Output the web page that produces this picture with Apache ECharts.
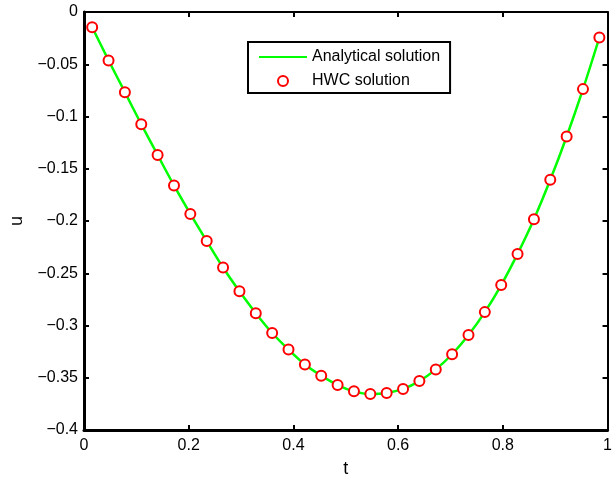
<!DOCTYPE html>
<html>
<head>
<meta charset="utf-8">
<script src="https://cdn.jsdelivr.net/npm/echarts@6/dist/echarts.min.js"></script>
<style>
  html, body { margin: 0; padding: 0; background: #fff; }
  #main { width: 615px; height: 483px; }
</style>
</head>
<body>
<div id="main"></div>
<script>
// sample points t_i = (2i-1)/64
var tValues = [0.0156, 0.0469, 0.0781, 0.1094, 0.1406, 0.1719, 0.2031, 0.2344,
  0.2656, 0.2969, 0.3281, 0.3594, 0.3906, 0.4219, 0.4531, 0.4844,
  0.5156, 0.5469, 0.5781, 0.6094, 0.6406, 0.6719, 0.7031, 0.7344,
  0.7656, 0.7969, 0.8281, 0.8594, 0.8906, 0.9219, 0.9531, 0.9844];
var uAnalytical = [-0.0146, -0.0463, -0.0767, -0.1074, -0.1368, -0.1660, -0.1932, -0.2192,
  -0.2445, -0.2673, -0.2882, -0.3072, -0.3230, -0.3373, -0.3480, -0.3570,
  -0.3630, -0.3655, -0.3646, -0.3607, -0.3532, -0.3420, -0.3275, -0.3091,
  -0.2872, -0.2613, -0.2315, -0.1983, -0.1606, -0.1191, -0.0738, -0.0244];
var uHWC = [-0.0146, -0.0463, -0.0767, -0.1074, -0.1368, -0.1660, -0.1932, -0.2192,
  -0.2445, -0.2673, -0.2882, -0.3072, -0.3230, -0.3373, -0.3480, -0.3570,
  -0.3630, -0.3655, -0.3646, -0.3607, -0.3532, -0.3420, -0.3275, -0.3091,
  -0.2872, -0.2613, -0.2315, -0.1983, -0.1606, -0.1191, -0.0738, -0.0244];
var seriesNames = ['Analytical solution', 'HWC solution'];

function pairs(xs, ys) {
  return xs.map(function (x, i) { return [x, ys[i]]; });
}
function yLabel(v) {
  if (Math.abs(v) < 1e-9) return '0';
  return '\u2212' + parseFloat(Math.abs(v).toFixed(2));
}

var font = 'Liberation Sans, Arial, Helvetica, sans-serif';
var boxAxis = {
  axisLine: { show: true, onZero: false, lineStyle: { color: '#000', width: 2 } },
  axisTick: { show: true, inside: true, length: 5, lineStyle: { color: '#000', width: 2 } },
  axisLabel: { show: false },
  splitLine: { show: false }
};

var myChart = echarts.init(document.getElementById('main'));
myChart.setOption({
  backgroundColor: '#fff',
  animation: false,
  textStyle: { fontFamily: font },
  grid: { left: 81, right: 1, top: 12, bottom: 50 },
  legend: {
    data: [
      { name: seriesNames[0], itemStyle: { color: 'rgba(0,0,0,0)', borderWidth: 0 } },
      { name: seriesNames[1] }
    ],
    orient: 'vertical',
    left: 248,
    top: 42,
    borderColor: '#000',
    borderWidth: 2,
    backgroundColor: '#fff',
    padding: [7, 10, 4, 10],
    itemWidth: 48,
    itemHeight: 10,
    itemGap: 8,
    textStyle: { fontSize: 16, color: '#000', fontFamily: font }
  },
  xAxis: [
    {
      type: 'value', min: 0, max: 1, interval: 0.2,
      name: 't', nameLocation: 'middle', nameGap: 30,
      nameTextStyle: { fontSize: 18, color: '#000', fontFamily: font },
      axisLine: { show: true, onZero: false, lineStyle: { color: '#000', width: 3 } },
      axisTick: { inside: true, length: 5, lineStyle: { color: '#000', width: 2 } },
      axisLabel: { fontSize: 16, color: '#000', margin: 8, fontFamily: font },
      splitLine: { show: false }
    },
    Object.assign({ type: 'value', min: 0, max: 1, interval: 0.2, position: 'top' }, boxAxis)
  ],
  yAxis: [
    {
      type: 'value', min: -0.4, max: 0, interval: 0.05,
      name: 'u', nameLocation: 'middle', nameGap: 58,
      nameTextStyle: { fontSize: 18, color: '#000', fontFamily: font },
      axisLine: { show: true, onZero: false, lineStyle: { color: '#000', width: 3 } },
      axisTick: { inside: true, length: 5, lineStyle: { color: '#000', width: 2 } },
      axisLabel: { fontSize: 16, color: '#000', margin: 6, fontFamily: font, formatter: yLabel },
      splitLine: { show: false }
    },
    Object.assign({ type: 'value', min: -0.4, max: 0, interval: 0.05, position: 'right' }, boxAxis)
  ],
  series: [
    {
      name: seriesNames[0],
      type: 'line',
      data: pairs(tValues, uAnalytical),
      smooth: 0.3,
      symbol: 'none',
      color: '#00ff00',
      lineStyle: { color: '#00ff00', width: 2.5 },
      z: 2
    },
    {
      name: seriesNames[1],
      type: 'scatter',
      data: pairs(tValues, uHWC),
      symbol: 'emptyCircle',
      symbolSize: 10,
      color: '#ff0000',
      itemStyle: { color: '#ff0000', borderColor: '#ff0000', borderWidth: 2.5, opacity: 1 },
      z: 3
    }
  ]
});
</script>
</body>
</html>
